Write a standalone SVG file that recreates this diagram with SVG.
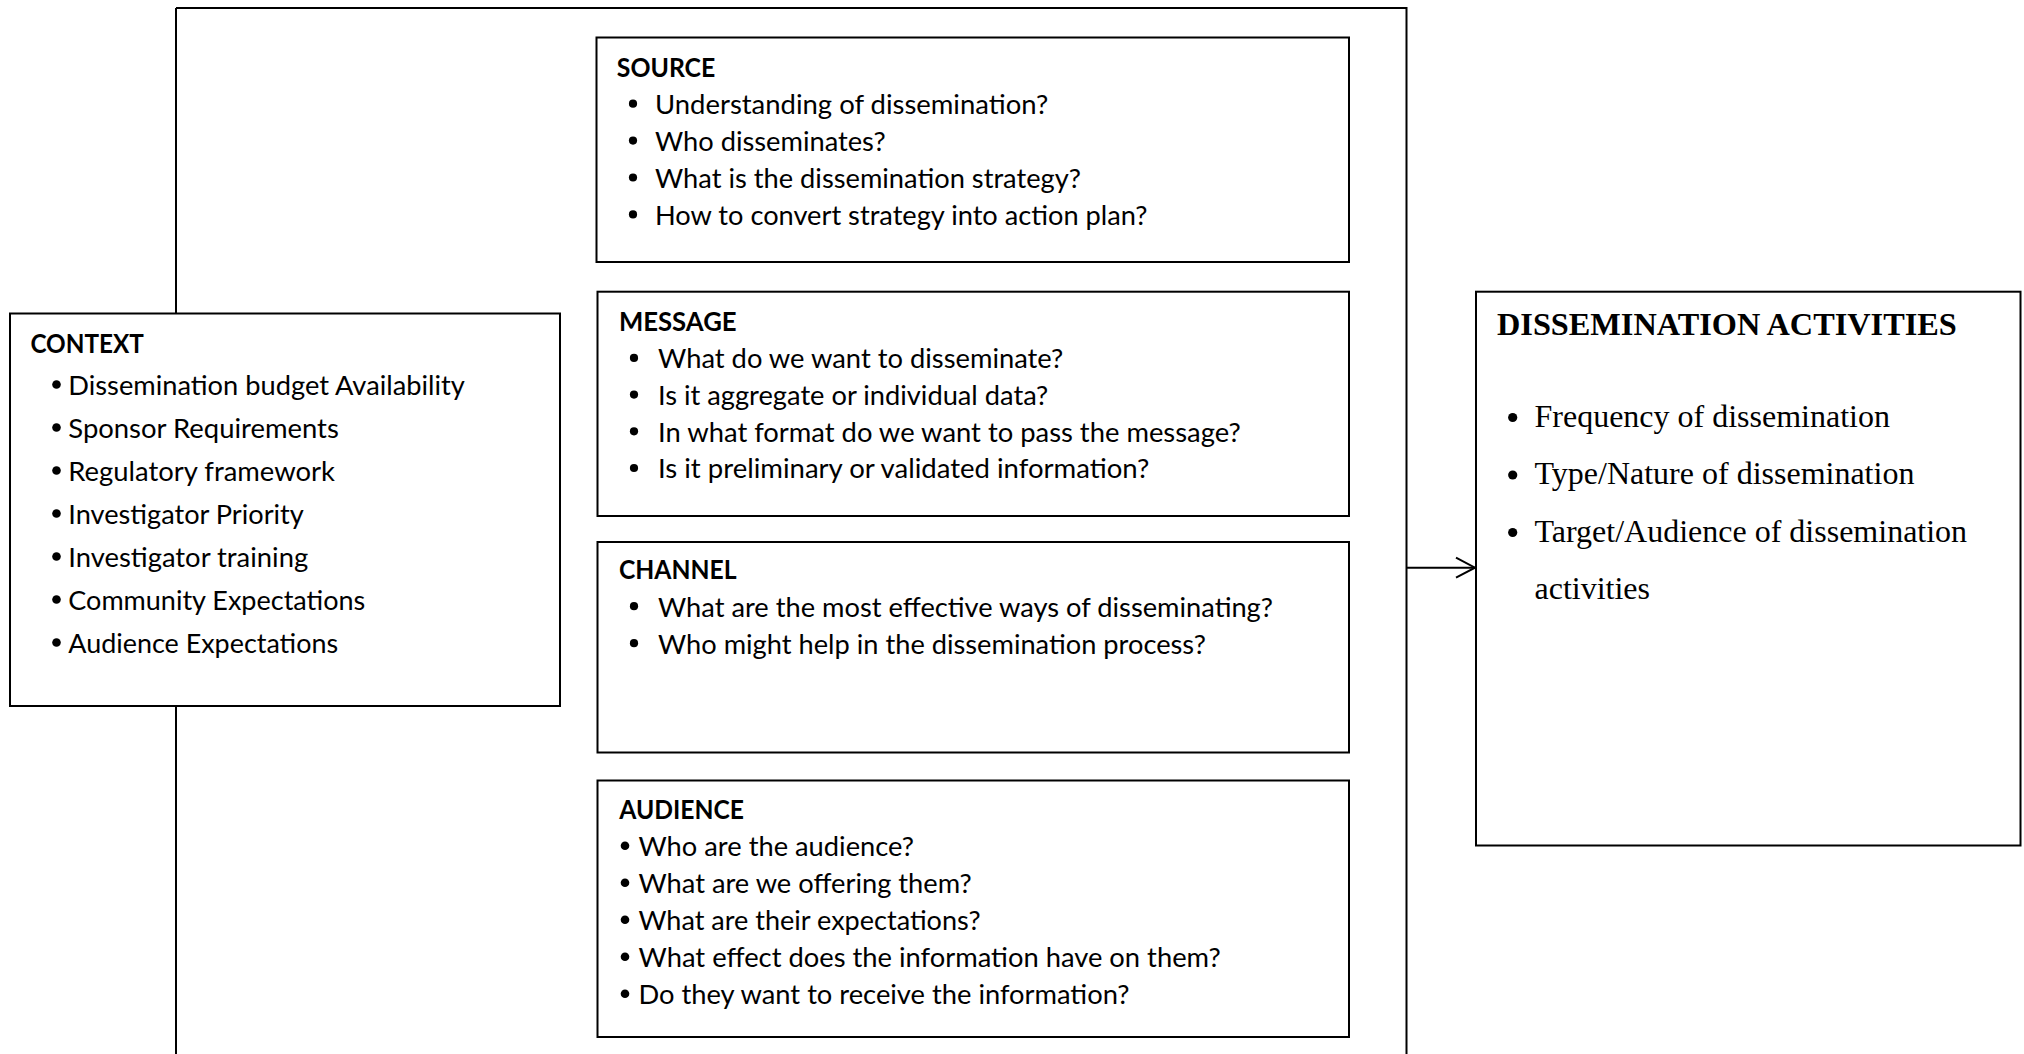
<svg xmlns="http://www.w3.org/2000/svg" width="2024" height="1054" viewBox="0 0 2024 1054">
<style>
.box{fill:#fff;stroke:#000;stroke-width:2}
.ln{fill:none;stroke:#000;stroke-width:2}
.t{font-family:Lato,"Liberation Sans",sans-serif;font-size:26.5px;fill:#000}
.h{font-family:Lato,"Liberation Sans",sans-serif;font-size:26.5px;font-weight:700;fill:#000}
.s{font-family:"Liberation Serif","Times New Roman",serif;font-size:32px;fill:#000}
.sh{font-family:"Liberation Serif","Times New Roman",serif;font-size:32.3px;font-weight:700;fill:#000}
.b{fill:#000}
</style>
<defs>
<marker id="arr" markerUnits="userSpaceOnUse" markerWidth="24" markerHeight="26" refX="21" refY="13" orient="auto">
<path d="M2,3 L21,13 L2,23" fill="none" stroke="#000" stroke-width="2"/>
</marker>
</defs>
<rect width="2024" height="1054" fill="#fff"/>
<g id="connectors">
<path class="ln" d="M176,8 H1406.5 V1054"/>
<path class="ln" d="M176,8 V313.5"/>
<path class="ln" d="M176,706 V1054"/>
<line class="ln" x1="1406.5" y1="567.7" x2="1475" y2="567.7" marker-end="url(#arr)"/>
</g>
<g id="context">
<rect class="box" x="10" y="313.5" width="550" height="392.5"/>
<text class="h" x="30.4" y="353" textLength="113.5" lengthAdjust="spacingAndGlyphs">CONTEXT</text>
<circle class="b" cx="56.5" cy="384.5" r="4.3"/>
<text class="t" x="68.3" y="394.8" textLength="396.5" lengthAdjust="spacingAndGlyphs">Dissemination budget Availability</text>
<circle class="b" cx="56.5" cy="427.5" r="4.3"/>
<text class="t" x="68.3" y="437.8" textLength="270.5" lengthAdjust="spacingAndGlyphs">Sponsor Requirements</text>
<circle class="b" cx="56.5" cy="470.5" r="4.3"/>
<text class="t" x="68.3" y="480.8" textLength="266.7" lengthAdjust="spacingAndGlyphs">Regulatory framework</text>
<circle class="b" cx="56.5" cy="513.5" r="4.3"/>
<text class="t" x="68.3" y="523.8" textLength="235.5" lengthAdjust="spacingAndGlyphs">Investigator Priority</text>
<circle class="b" cx="56.5" cy="556.5" r="4.3"/>
<text class="t" x="68.3" y="566.8" textLength="239.9" lengthAdjust="spacingAndGlyphs">Investigator training</text>
<circle class="b" cx="56.5" cy="599.5" r="4.3"/>
<text class="t" x="68.3" y="609.8" textLength="297" lengthAdjust="spacingAndGlyphs">Community Expectations</text>
<circle class="b" cx="56.5" cy="642.5" r="4.3"/>
<text class="t" x="68.3" y="652.8" textLength="269.8" lengthAdjust="spacingAndGlyphs">Audience Expectations</text>
</g>
<g id="source">
<rect class="box" x="596.5" y="37.5" width="752.5" height="224.5"/>
<text class="h" x="616.8" y="76.5" textLength="98.5" lengthAdjust="spacingAndGlyphs">SOURCE</text>
<circle class="b" cx="633" cy="103.7" r="4.1"/>
<text class="t" x="655" y="114" textLength="393.2" lengthAdjust="spacingAndGlyphs">Understanding of dissemination?</text>
<circle class="b" cx="633" cy="140.6" r="4.1"/>
<text class="t" x="655" y="150.9" textLength="230.8" lengthAdjust="spacingAndGlyphs">Who disseminates?</text>
<circle class="b" cx="633" cy="177.5" r="4.1"/>
<text class="t" x="655" y="187.8" textLength="426" lengthAdjust="spacingAndGlyphs">What is the dissemination strategy?</text>
<circle class="b" cx="633" cy="214.4" r="4.1"/>
<text class="t" x="655" y="224.7" textLength="492.5" lengthAdjust="spacingAndGlyphs">How to convert strategy into action plan?</text>
</g>
<g id="message">
<rect class="box" x="597.5" y="291.7" width="751.5" height="224.3"/>
<text class="h" x="618.9" y="331" textLength="117.7" lengthAdjust="spacingAndGlyphs">MESSAGE</text>
<circle class="b" cx="634" cy="357.9" r="4.1"/>
<text class="t" x="658" y="368.2" textLength="405.3" lengthAdjust="spacingAndGlyphs">What do we want to disseminate?</text>
<circle class="b" cx="634" cy="394.6" r="4.1"/>
<text class="t" x="658" y="404.9" textLength="390.3" lengthAdjust="spacingAndGlyphs">Is it aggregate or individual data?</text>
<circle class="b" cx="634" cy="431.3" r="4.1"/>
<text class="t" x="658" y="441.6" textLength="582.7" lengthAdjust="spacingAndGlyphs">In what format do we want to pass the message?</text>
<circle class="b" cx="634" cy="468" r="4.1"/>
<text class="t" x="658" y="478.3" textLength="491.3" lengthAdjust="spacingAndGlyphs">Is it preliminary or validated information?</text>
</g>
<g id="channel">
<rect class="box" x="597.5" y="542" width="751.5" height="210.5"/>
<text class="h" x="619" y="579.3" textLength="117.6" lengthAdjust="spacingAndGlyphs">CHANNEL</text>
<circle class="b" cx="634" cy="606.2" r="4.1"/>
<text class="t" x="658" y="616.5" textLength="615" lengthAdjust="spacingAndGlyphs">What are the most effective ways of disseminating?</text>
<circle class="b" cx="634" cy="643.2" r="4.1"/>
<text class="t" x="658" y="653.5" textLength="548" lengthAdjust="spacingAndGlyphs">Who might help in the dissemination process?</text>
</g>
<g id="audience">
<rect class="box" x="597.5" y="780.5" width="751.5" height="256.5"/>
<text class="h" x="619.3" y="818.5" textLength="124.7" lengthAdjust="spacingAndGlyphs">AUDIENCE</text>
<circle class="b" cx="625" cy="845.7" r="4.3"/>
<text class="t" x="638.5" y="856" textLength="275.5" lengthAdjust="spacingAndGlyphs">Who are the audience?</text>
<circle class="b" cx="625" cy="882.7" r="4.3"/>
<text class="t" x="638.5" y="893" textLength="333.2" lengthAdjust="spacingAndGlyphs">What are we offering them?</text>
<circle class="b" cx="625" cy="919.7" r="4.3"/>
<text class="t" x="638.5" y="930" textLength="342" lengthAdjust="spacingAndGlyphs">What are their expectations?</text>
<circle class="b" cx="625" cy="956.7" r="4.3"/>
<text class="t" x="638.5" y="967" textLength="582.2" lengthAdjust="spacingAndGlyphs">What effect does the information have on them?</text>
<circle class="b" cx="625" cy="993.7" r="4.3"/>
<text class="t" x="638.5" y="1004" textLength="491" lengthAdjust="spacingAndGlyphs">Do they want to receive the information?</text>
</g>
<g id="dissemination-activities">
<rect class="box" x="1476" y="291.7" width="544.5" height="553.8"/>
<text class="sh" x="1497" y="334.5">DISSEMINATION ACTIVITIES</text>
<circle class="b" cx="1512.7" cy="417.5" r="4.6"/>
<text class="s" x="1534.5" y="426.5">Frequency of dissemination</text>
<circle class="b" cx="1512.7" cy="475" r="4.6"/>
<text class="s" x="1534.5" y="484">Type/Nature of dissemination</text>
<circle class="b" cx="1512.7" cy="532.5" r="4.6"/>
<text class="s" x="1534.5" y="541.5">Target/Audience of dissemination</text>
<text class="s" x="1534.5" y="598.5">activities</text>
</g>
</svg>
